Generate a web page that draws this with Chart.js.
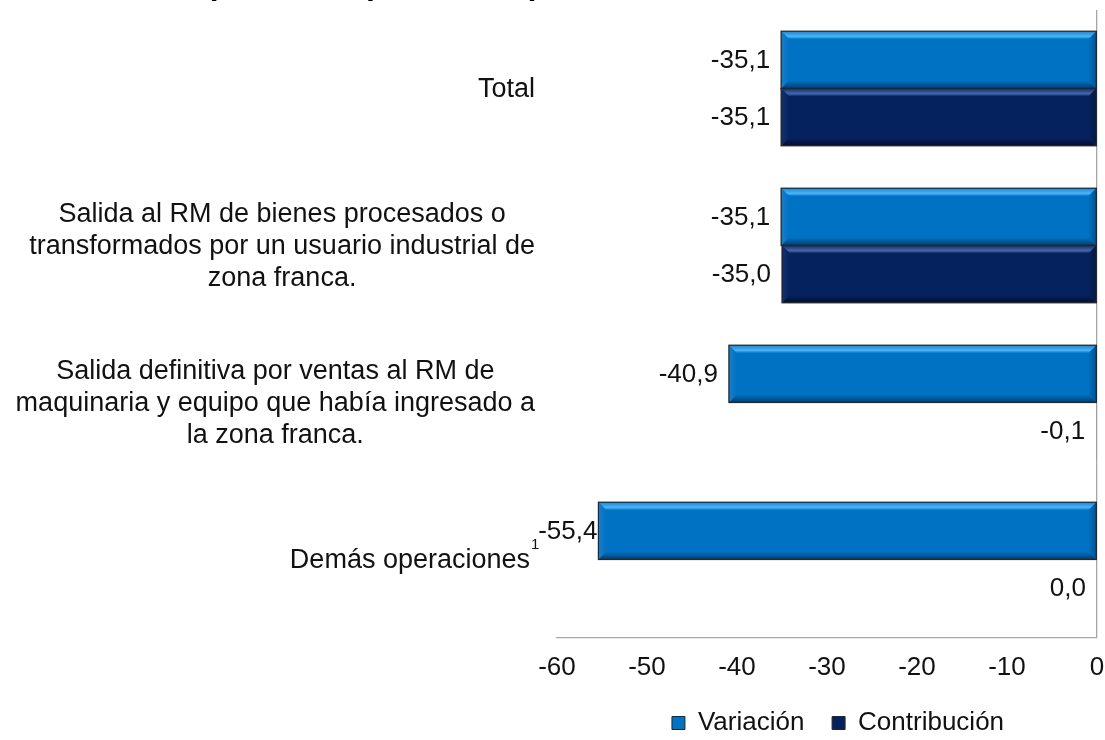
<!DOCTYPE html>
<html><head><meta charset="utf-8">
<script src="https://cdn.jsdelivr.net/npm/chart.js@4.4.1/dist/chart.umd.min.js"></script>
<style>
html,body{margin:0;padding:0;background:#fff;overflow:hidden;}
#wrap{position:relative;width:1105px;height:740px;overflow:hidden;background:#fff;}
#title{position:absolute;left:34px;top:-33px;font:bold 32px 'Liberation Sans',Arial,sans-serif;line-height:32px;white-space:nowrap;color:#000;}
canvas{position:absolute;left:0;top:0;}
</style></head><body>
<div id="wrap"><canvas id="c" width="1105" height="740"></canvas><div id="title">Total, 2020 (variación porcentual)</div></div>
<script>
const categories = [
  ["Total"],
  ["Salida al RM de bienes procesados o", "transformados por un usuario industrial de", "zona franca."],
  ["Salida definitiva por ventas al RM de", "maquinaria y equipo que había ingresado a", "la zona franca."],
  ["Demás operaciones"]
];
const footnoteMarks = ["", "", "", "1"];
const seriesNames = ["Variación", "Contribución"];
const variacion = [-35.1, -35.1, -40.9, -55.4];
const contribucion = [-35.1, -35.0, -0.1, 0.0];
const xTickValues = [-60, -50, -40, -30, -20, -10, 0];

const FONT = "'Liberation Sans', Arial, sans-serif";
const palettes = [
  {main:'#0072c4', top0:'#1486d8', top1:'#4fb4f4', bot:'#003e70', left:'#1a7dcc', right:'#00528f'},
  {main:'#05225f', top0:'#0f2f6c', top1:'#4666a9', bot:'#020f30', left:'#16306d', right:'#031842'}
];

function poly(ctx, pts, fill){
  ctx.beginPath(); ctx.moveTo(pts[0][0], pts[0][1]);
  for (let i=1;i<pts.length;i++) ctx.lineTo(pts[i][0], pts[i][1]);
  ctx.closePath(); ctx.fillStyle = fill; ctx.fill();
}
function bevel(ctx, L, T, R, B, p){
  const w = R-L, h = B-T;
  if (w < 3) return;
  const b = Math.min(8, w/2, h/2);
  let g = ctx.createLinearGradient(0,T,0,T+b);
  g.addColorStop(0,p.top0); g.addColorStop(0.65,p.top1); g.addColorStop(1,p.main);
  poly(ctx, [[L,T],[R,T],[R-b,T+b],[L+b,T+b]], g);
  g = ctx.createLinearGradient(0,B-b,0,B);
  g.addColorStop(0,p.main); g.addColorStop(1,p.bot);
  poly(ctx, [[L+b,B-b],[R-b,B-b],[R,B],[L,B]], g);
  g = ctx.createLinearGradient(L,0,L+b,0);
  g.addColorStop(0,p.left); g.addColorStop(1,p.main);
  poly(ctx, [[L,T],[L+b,T+b],[L+b,B-b],[L,B]], g);
  g = ctx.createLinearGradient(R-b,0,R,0);
  g.addColorStop(0,p.main); g.addColorStop(1,p.right);
  poly(ctx, [[R,T],[R,B],[R-b,B-b],[R-b,T+b]], g);
}

const barDecor = {
  id: 'barDecor',
  afterDatasetsDraw(chart){
    const ctx = chart.ctx, area = chart.chartArea;
    ctx.save();
    chart.data.datasets.forEach((ds, di) => {
      const meta = chart.getDatasetMeta(di);
      meta.data.forEach((el, j) => {
        const {x, y, base, height} = el.getProps(['x','y','base','height'], true);
        const L = Math.min(x, base), R = Math.max(x, base);
        const T = y - height/2, B = y + height/2;
        if (R - L >= 3) {
          bevel(ctx, L, T, R, B, palettes[di]);
          ctx.strokeStyle = '#262626'; ctx.lineWidth = 1.2;
          ctx.strokeRect(L, T, R-L, B-T);
        }
        const v = ds.data[j];
        const txt = v.toFixed(1).replace('.', ',');
        ctx.font = '26px ' + FONT;
        ctx.fillStyle = '#111';
        ctx.textAlign = 'right'; ctx.textBaseline = 'middle';
        const w = ctx.measureText(txt).width;
        let tx = L - 11;
        if (tx - w < area.left - 12) tx = area.left - 12 + w;
        tx = Math.min(tx, L - 1);
        ctx.fillText(txt, tx, y + 1);
      });
    });
    ctx.restore();
  }
};

const catLabels = {
  id: 'catLabels',
  afterLayout(chart){
    if (chart.legend) { chart.legend.left += 11; chart.legend.right += 11; }
  },
  afterDraw(chart){
    const ctx = chart.ctx, ys = chart.scales.y;
    const rightEdge = 535, lh = 32;
    ctx.save();
    ctx.fillStyle = '#111';
    ctx.textBaseline = 'middle';
    categories.forEach((lines, i) => {
      const yc = ys.getPixelForValue(i);
      ctx.font = '27px ' + FONT;
      const widths = lines.map(s => ctx.measureText(s).width);
      const mark = footnoteMarks[i];
      let re = rightEdge;
      if (mark) re = rightEdge - 5;
      const blockW = Math.max(...widths);
      const cx = re - blockW/2;
      ctx.textAlign = 'center';
      lines.forEach((s, k) => {
        ctx.fillText(s, cx, yc + (k - (lines.length-1)/2)*lh + 1);
      });
      if (mark) {
        ctx.font = '15px ' + FONT;
        ctx.textAlign = 'left';
        ctx.fillText(mark, re + 1, yc - 15);
      }
    });
    ctx.restore();
  }
};

new Chart(document.getElementById('c'), {
  type: 'bar',
  data: {
    labels: categories.map(l => l.join(' ')),
    datasets: [
      {label: seriesNames[0], data: variacion, backgroundColor: palettes[0].main, borderColor: '#262626', borderWidth: 1.2, borderSkipped: false},
      {label: seriesNames[1], data: contribucion, backgroundColor: palettes[1].main, borderColor: '#262626', borderWidth: 1.2, borderSkipped: false}
    ]
  },
  options: {
    indexAxis: 'y',
    responsive: false,
    animation: false,
    devicePixelRatio: 1,
    layout: {padding: {top: 10, left: 0, right: 8, bottom: -6}},
    datasets: {bar: {categoryPercentage: 0.73, barPercentage: 1.0}},
    scales: {
      x: {
        type: 'linear', min: -60, max: 0,
        afterBuildTicks: s => { s.ticks = xTickValues.map(v => ({value: v})); },
        afterFit: s => { s.height = 66; s.paddingLeft = 0; s.paddingRight = 0; },
        ticks: {font: {family: FONT, size: 26}, color: '#111', padding: 14},
        grid: {drawTicks: false, lineWidth: 1.3, color: c => (c.tick && c.tick.value === 0) ? '#a6a6a6' : 'rgba(0,0,0,0)'},
        border: {display: true, color: '#a6a6a6', width: 1.3}
      },
      y: {
        type: 'category',
        afterFit: s => { s.width = 557; },
        ticks: {display: false},
        grid: {display: false},
        border: {display: false}
      }
    },
    plugins: {
      legend: {
        position: 'bottom', fullSize: false,
        labels: {
          font: {family: FONT, size: 26}, color: '#111', boxWidth: 13, boxHeight: 13, padding: 6,
          generateLabels: chart => Chart.defaults.plugins.legend.labels.generateLabels(chart).map((it, k) => {
            it.text = k === 0 ? it.text + '   ' : it.text; it.lineWidth = 1; it.strokeStyle = '#262626'; return it; })
        }
      },
      tooltip: {enabled: false},
      title: {display: false}
    }
  },
  plugins: [barDecor, catLabels]
});
</script>
</body></html>
